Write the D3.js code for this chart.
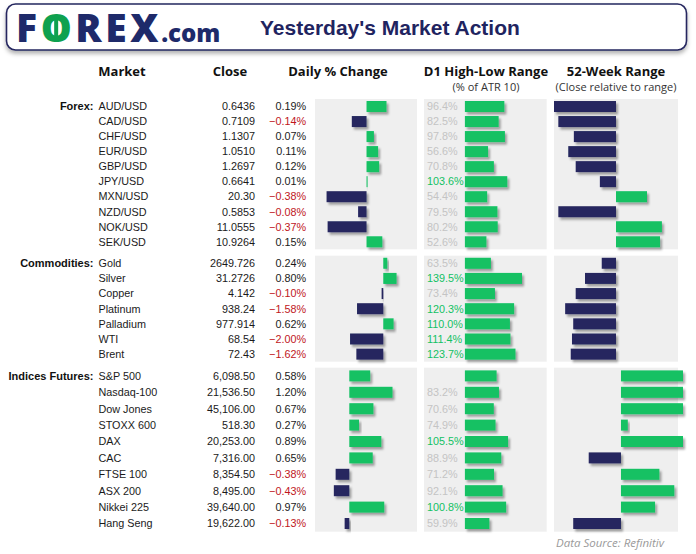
<!DOCTYPE html>
<html><head><meta charset="utf-8">
<script src="https://cdn.jsdelivr.net/npm/d3@7"></script>
<style>body{margin:0;background:#fff}svg{display:block}</style>
</head><body>
<svg id="chart" width="696" height="554"></svg>
<script>
// ---------- DATA ----------
const sectionLabels = ["Forex:", "Commodities:", "Indices Futures:"];

const forexMarkets = ["AUD/USD","CAD/USD","CHF/USD","EUR/USD","GBP/USD","JPY/USD","MXN/USD","NZD/USD","NOK/USD","SEK/USD"];
const forexClose   = ["0.6436","0.7109","1.1307","1.0510","1.2697","0.6641","20.30","0.5853","11.0555","10.9264"];
const forexChange  = [0.19,-0.14,0.07,0.11,0.12,0.01,-0.38,-0.08,-0.37,0.15];
const forexRange   = [96.4,82.5,97.8,56.6,70.8,103.6,54.4,79.5,80.2,52.6];
const forex52w     = [-1.0,-0.93,-0.68,-0.77,-0.65,-0.26,0.50,-0.93,0.74,0.71];

const commMarkets = ["Gold","Silver","Copper","Platinum","Palladium","WTI","Brent"];
const commClose   = ["2649.726","31.2726","4.142","938.24","977.914","68.54","72.43"];
const commChange  = [0.24,0.80,-0.10,-1.58,0.62,-2.00,-1.62];
const commRange   = [63.5,139.5,73.4,120.3,110.0,111.4,123.7];
const comm52w     = [-0.23,-0.50,-0.65,-0.82,-0.69,-0.71,-0.73];

const indexMarkets = ["S&P 500","Nasdaq-100","Dow Jones","STOXX 600","DAX","CAC","FTSE 100","ASX 200","Nikkei 225","Hang Seng"];
const indexClose   = ["6,098.50","21,536.50","45,106.00","518.30","20,253.00","7,316.00","8,354.50","8,495.00","39,640.00","19,622.00"];
const indexChange  = [0.58,1.20,0.67,0.27,0.89,0.65,-0.38,-0.43,0.97,-0.13];
const indexRange   = [77.5,83.2,70.6,74.9,105.5,88.9,71.2,92.1,100.8,59.9];
const index52w     = [1.0,1.0,1.0,0.11,1.0,-0.52,0.62,0.86,0.55,-0.77];

const hiddenRangeLabels = ["S&P 500"];

// axis domains used by each section
const dailyDomains = [[-0.49,0.48],[-4.11,2.03],[-0.953,1.88]];
const rangeDomain  = [-100,200];
const week52Domains = [[-1,1],[-1,1],[-1.08,0.92]];

const headers = ["Market","Close","Daily % Change","D1 High-Low Range","52-Week Range"];
const subHeaders = ["(% of ATR 10)","(Close relative to range)"];
const sourceText = "Data Source: Refinitiv";

// ---------- LAYOUT ----------
const NAVY = "#25275f", GREEN = "#12c163", PANEL = "#efefef";
const dailyX = [315,417], rangeX = [424,546.7], w52X = [554,678];
const sectionY = [[99,249.3],[255.7,361.7],[367.7,531.7]];

const svg = d3.select("#chart");
const defs = svg.append("defs");
const f = defs.append("filter").attr("id","sh").attr("x","-20%").attr("y","-50%").attr("width","150%").attr("height","220%");
f.append("feDropShadow").attr("dx",2).attr("dy",2.5).attr("stdDeviation",1.3).attr("flood-color","#000").attr("flood-opacity",0.35);
const f2 = defs.append("filter").attr("id","hsh").attr("x","-5%").attr("y","-20%").attr("width","110%").attr("height","160%");
f2.append("feDropShadow").attr("dx",0).attr("dy",3).attr("stdDeviation",2).attr("flood-color","#000").attr("flood-opacity",0.3);

// header box
svg.append("rect").attr("x",6.5).attr("y",4).attr("width",680).attr("height",46).attr("rx",9)
  .attr("fill","#fff").attr("stroke",NAVY).attr("stroke-width",1.6).attr("filter","url(#hsh)");

const logo = svg.append("text").attr("x",16).attr("y",41.5)
  .attr("font-family","Open Sans").attr("font-weight",800).attr("font-size",39)
  .attr("letter-spacing",3.6).attr("fill","#1e2a6a");
logo.append("tspan").text("F");
logo.append("tspan").attr("fill","#0ea14f").text("O");
logo.append("tspan").text("REX");
logo.append("tspan").attr("font-size",24).attr("letter-spacing",0).attr("dx",-1).text(".com");
const oBox = logo.node().getExtentOfChar(1);
svg.append("rect").attr("x",oBox.x + (oBox.width-3.6)/2 - 2).attr("y",17).attr("width",4).attr("height",21).attr("fill","#0ea14f");

svg.append("text").attr("x",260).attr("y",35).attr("font-family","Liberation Sans, Arial")
  .attr("font-weight","bold").attr("font-size",21).attr("fill","#1f2460").text("Yesterday's Market Action");

// column headers
const headerX = [122,230,338,486,616];
svg.selectAll("text.hdr").data(headers).join("text").attr("class","hdr")
  .attr("x",(d,i)=>headerX[i]).attr("y",75.7).attr("text-anchor","middle")
  .attr("font-family","Open Sans").attr("font-weight",700).attr("font-size",13).attr("fill","#111").text(d=>d);
svg.selectAll("text.sub").data(subHeaders).join("text").attr("class","sub")
  .attr("x",(d,i)=>[486,616][i]).attr("y",91).attr("text-anchor","middle")
  .attr("font-family","Open Sans").attr("font-size",11).attr("fill","#333").text(d=>d);

const sections = [
  {markets:forexMarkets, close:forexClose, change:forexChange, range:forexRange, w52:forex52w},
  {markets:commMarkets, close:commClose, change:commChange, range:commRange, w52:comm52w},
  {markets:indexMarkets, close:indexClose, change:indexChange, range:indexRange, w52:index52w}
];

const rangeScale = d3.scaleLinear().domain(rangeDomain).range(rangeX);
const FONT = "Liberation Sans, Arial";
const BAR_H = 11;

sections.forEach((s,si)=>{
  const rows = s.markets.map((m,i)=>({market:m, close:s.close[i], change:s.change[i], range:s.range[i], w52:s.w52[i]}));
  const y = d3.scaleBand().domain(s.markets).range(sectionY[si]);
  const cy = d => y(d.market) + y.bandwidth()/2;
  const dx = d3.scaleLinear().domain(dailyDomains[si]).range(dailyX);
  const wx = d3.scaleLinear().domain(week52Domains[si]).range(w52X);
  const g = svg.append("g");

  // panels
  [dailyX, rangeX, w52X].forEach(px=>{
    g.append("rect").attr("x",px[0]).attr("y",sectionY[si][0]).attr("width",px[1]-px[0])
      .attr("height",sectionY[si][1]-sectionY[si][0]).attr("fill",PANEL);
  });

  // section label
  g.append("text").attr("x",93.5).attr("y",cy(rows[0])+3.8).attr("text-anchor","end")
    .attr("font-family",FONT).attr("font-weight","bold").attr("font-size",11).attr("fill","#111").text(sectionLabels[si]);

  // texts
  g.selectAll("text.m").data(rows).join("text").attr("class","m")
    .attr("x",98.5).attr("y",d=>cy(d)+3.8).attr("font-family",FONT).attr("font-size",10.8).attr("fill","#1a1a1a").text(d=>d.market);
  g.selectAll("text.c").data(rows).join("text").attr("class","c")
    .attr("x",255).attr("y",d=>cy(d)+3.8).attr("text-anchor","end").attr("font-family",FONT).attr("font-size",10.8).attr("fill","#1a1a1a").text(d=>d.close);
  g.selectAll("text.p").data(rows).join("text").attr("class","p")
    .attr("x",306).attr("y",d=>cy(d)+3.8).attr("text-anchor","end").attr("font-family",FONT).attr("font-size",10.8)
    .attr("fill",d=>d.change<0?"#c0161c":"#1a1a1a").text(d=>d3.format(".2f")(d.change)+"%");

  // daily change bars
  g.selectAll("rect.d").data(rows).join("rect").attr("class","d")
    .attr("x",d=>Math.min(dx(0),dx(d.change))).attr("width",d=>Math.abs(dx(d.change)-dx(0)))
    .attr("y",d=>cy(d)-BAR_H/2).attr("height",BAR_H).attr("fill",d=>d.change<0?NAVY:GREEN).attr("filter","url(#sh)");

  // D1 range bars
  g.selectAll("rect.r").data(rows).join("rect").attr("class","r")
    .attr("x",rangeScale(0)).attr("width",d=>rangeScale(d.range)-rangeScale(0))
    .attr("y",d=>cy(d)-BAR_H/2).attr("height",BAR_H).attr("fill",GREEN).attr("filter","url(#sh)");
  g.selectAll("text.rl").data(rows.filter(d=>!hiddenRangeLabels.includes(d.market))).join("text").attr("class","rl")
    .attr("x",427).attr("y",d=>cy(d)+3.8).attr("font-family",FONT).attr("font-size",10.8)
    .attr("fill",d=>d.range>=100?GREEN:"#c4c4c4").text(d=>d3.format(".1f")(d.range)+"%");

  // 52-week bars
  g.selectAll("rect.w").data(rows).join("rect").attr("class","w")
    .attr("x",d=>Math.min(wx(0),wx(d.w52))).attr("width",d=>Math.abs(wx(d.w52)-wx(0)))
    .attr("y",d=>cy(d)-BAR_H/2).attr("height",BAR_H).attr("fill",d=>d.w52<0?NAVY:GREEN).attr("filter","url(#sh)");
});

svg.append("text").attr("x",664).attr("y",546.5).attr("text-anchor","end")
  .attr("font-family","Open Sans").attr("font-style","italic").attr("font-size",11.5).attr("fill","#9a9a9a").text(sourceText);
</script>
</body></html>
